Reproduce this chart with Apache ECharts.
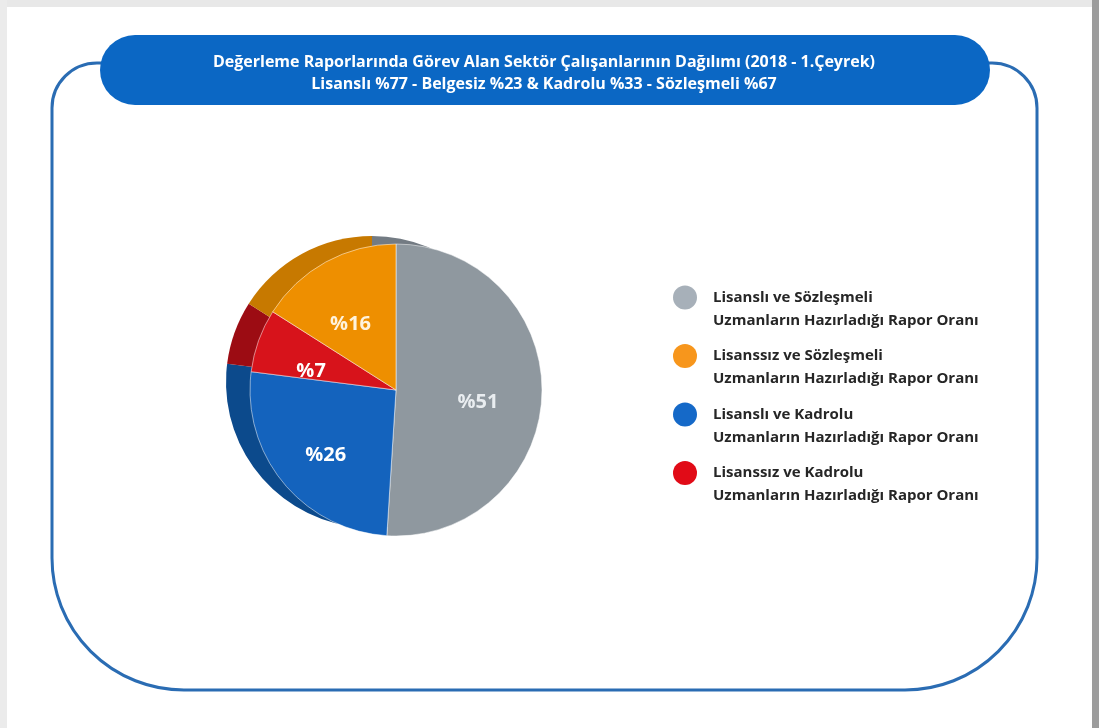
<!DOCTYPE html>
<html><head><meta charset="utf-8">
<script src="https://cdn.jsdelivr.net/npm/echarts@6/dist/echarts.min.js"></script>
<style>html,body{margin:0;padding:0;background:#fff}#c{width:1099px;height:728px}</style>
</head><body><div id="c"></div>
<script>
const titleLines = ['Değerleme Raporlarında Görev Alan Sektör Çalışanlarının Dağılımı (2018 - 1.Çeyrek)',
                    'Lisanslı %77 - Belgesiz %23 & Kadrolu %33 - Sözleşmeli %67'];
// slices in clockwise order from 12 o'clock
const categories = ['Lisanslı ve Sözleşmeli\nUzmanların Hazırladığı Rapor Oranı',
                    'Lisanslı ve Kadrolu\nUzmanların Hazırladığı Rapor Oranı',
                    'Lisanssız ve Kadrolu\nUzmanların Hazırladığı Rapor Oranı',
                    'Lisanssız ve Sözleşmeli\nUzmanların Hazırladığı Rapor Oranı'];
const values = [51, 26, 7, 16];
const legendOrder = [0, 3, 1, 2];

const faceColors = ['#8f989f', '#1463bd', '#d7131b', '#ee8f00'];
const rimColors  = ['#737b83', '#0c4a8c', '#9c0c13', '#c77900'];
const legendColors = ['#a7b0b9', '#1569c8', '#e10b17', '#f7961c'];
const labelColors = ['#e9edf0', '#ffffff', '#ffffff', '#fff3dc'];

const chart = echarts.init(document.getElementById('c'), null, {renderer: 'canvas'});
const mk = (cols) => categories.map((n, i) => ({name: n, value: values[i], itemStyle: {color: cols[i]}}));

chart.setOption({
  animation: false,
  backgroundColor: '#ffffff',
  graphic: [
    {type: 'rect', shape: {x: 0, y: 0, width: 1099, height: 7}, style: {fill: '#e8e8e8'}, z: 0},
    {type: 'rect', shape: {x: 0, y: 0, width: 7, height: 728}, style: {fill: '#ebebeb'}, z: 0},
    {type: 'rect', shape: {x: 1092, y: 0, width: 7, height: 728}, style: {fill: '#9c9c9c'}, z: 0},
    {type: 'rect', shape: {x: 52, y: 63, width: 985, height: 627, r: [45, 45, 132, 132]},
     style: {fill: 'none', stroke: '#2a6cb3', lineWidth: 3}, z: 1},
    {type: 'rect', shape: {x: 100, y: 35, width: 890, height: 70, r: 35},
     style: {fill: '#0b67c4'}, z: 2},
    {type: 'text', x: 544, y: 73, z: 3,
     style: {text: titleLines.join('\n'), fill: '#ffffff', align: 'center', verticalAlign: 'middle',
             font: 'bold 16px "Open Sans", sans-serif', lineHeight: 22}}
  ],
  legend: {
    orient: 'vertical', left: 673, top: 263, padding: 0,
    icon: 'circle', itemWidth: 24, itemHeight: 24, itemGap: -10.5,
    selectedMode: false,
    itemStyle: {borderWidth: 0},
    formatter: name => '\n' + name,
    data: legendOrder.map(i => ({name: categories[i], itemStyle: {color: legendColors[i], borderWidth: 0}})),
    textStyle: {color: '#262626', fontSize: 15, fontWeight: 'bold', fontFamily: '"Open Sans", sans-serif',
                lineHeight: 23, padding: [0, 0, 0, 11]}
  },
  series: [
    {type: 'pie', name: 'face', z: 3, silent: true, center: [396, 390], radius: [0, 146],
     startAngle: 90, clockwise: true, label: {show: false}, labelLine: {show: false},
     itemStyle: {borderColor: 'rgba(255,255,255,0.5)', borderWidth: 1}, data: mk(faceColors)},
    {type: 'pie', name: 'rim', z: 2, silent: true, center: [372, 382], radius: [0, 146],
     startAngle: 90, clockwise: true, label: {show: false}, labelLine: {show: false},
     itemStyle: {borderWidth: 0}, data: mk(rimColors)},
    {type: 'pie', name: 'labels', z: 4, silent: true, center: [392, 400], radius: [0, 166],
     startAngle: 90, clockwise: true, labelLine: {show: false},
     itemStyle: {color: 'rgba(0,0,0,0)'},
     label: {show: true, position: 'inside', formatter: p => '%' + p.value,
             fontSize: 20, fontWeight: 'bold', fontFamily: '"Open Sans", sans-serif'},
     data: categories.map((n, i) => ({name: n, value: values[i],
            itemStyle: {color: 'rgba(0,0,0,0)'}, label: {color: labelColors[i]}}))}
  ]
});
</script></body></html>
